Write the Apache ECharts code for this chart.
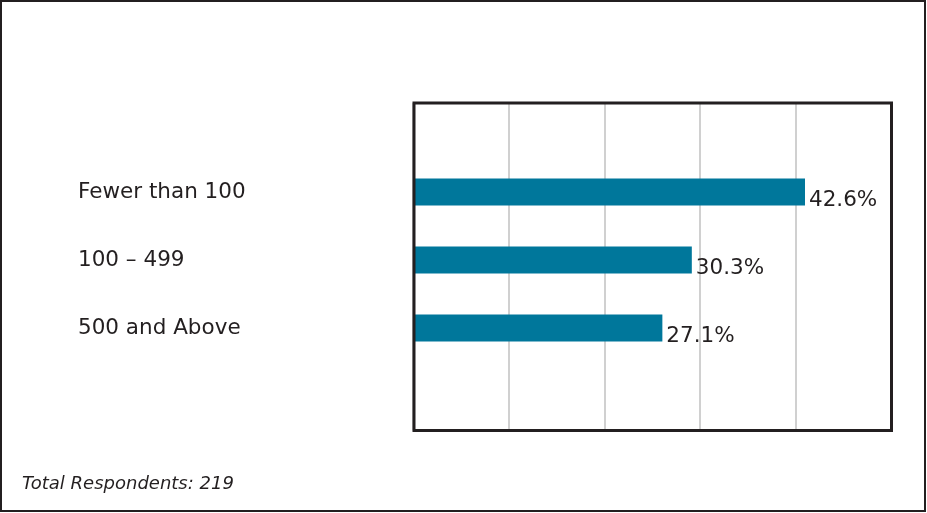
<!DOCTYPE html>
<html>
<head>
<meta charset="utf-8">
<script src="https://cdn.jsdelivr.net/npm/echarts@6/dist/echarts.min.js"></script>
<style>
  html, body { margin: 0; padding: 0; background: #ffffff; }
  #chart { width: 927px; height: 513px; }
</style>
</head>
<body>
<div id="chart"></div>
<script>
// Company size breakdown
const categories = ['Fewer than 100', '100 – 499', '500 and Above'];
const shares = [42.6, 30.3, 27.1];
const footnote = 'Total Respondents: 219';

const INK = '#231f20';
const BAR = '#00779b';
const FONT = '"DejaVu Sans", sans-serif';

// Shared horizontal scale for the framed plot and the bar band
const scaleMin = 0;
const scaleMax = 52;
const scaleStep = 10.4;

const chart = echarts.init(document.getElementById('chart'), null, { renderer: 'canvas' });

chart.setOption({
  backgroundColor: '#ffffff',
  animation: false,
  grid: [
    // plot area with vertical guide lines
    { left: 413, right: 35.5, top: 103, bottom: 82.5 },
    // band holding the three bars
    { left: 413, right: 35.5, top: 158, bottom: 151 }
  ],
  xAxis: [
    { gridIndex: 0, type: 'value', min: scaleMin, max: scaleMax, interval: scaleStep,
      axisLine: { show: false }, axisTick: { show: false }, axisLabel: { show: false },
      splitLine: { show: true, lineStyle: { color: '#d0d0d0', width: 2 } } },
    { gridIndex: 1, type: 'value', min: scaleMin, max: scaleMax, interval: scaleStep,
      axisLine: { show: false }, axisTick: { show: false }, axisLabel: { show: false },
      splitLine: { show: false } }
  ],
  yAxis: [
    { gridIndex: 0, type: 'category', data: [''], show: false },
    { gridIndex: 1, type: 'category', data: categories, inverse: true,
      axisLine: { show: false }, axisTick: { show: false },
      axisLabel: { show: true, margin: 335, align: 'left', color: INK,
        fontFamily: FONT, fontSize: 21.5 } }
  ],
  series: [
    {
      type: 'bar',
      xAxisIndex: 1,
      yAxisIndex: 1,
      data: shares,
      barWidth: 27,
      itemStyle: { color: BAR },
      label: {
        show: true,
        position: 'right',
        distance: 4,
        offset: [0, 8],
        color: INK,
        fontFamily: FONT,
        fontSize: 21.5,
        formatter: (p) => p.value.toFixed(1) + '%'
      }
    }
  ],
  graphic: [
    // outer panel border
    { type: 'rect', silent: true, z: 100,
      shape: { x: 1, y: 1, width: 924, height: 510 },
      style: { fill: 'transparent', stroke: INK, lineWidth: 2 } },
    // plot frame, drawn above the guide lines
    { type: 'rect', silent: true, z: 100,
      shape: { x: 414, y: 103, width: 477.5, height: 327.5 },
      style: { fill: 'transparent', stroke: INK, lineWidth: 3 } },
    { type: 'text', left: 22, top: 475, silent: true,
      style: { text: footnote, fill: INK, font: 'italic 18px ' + FONT } }
  ]
});
</script>
</body>
</html>
